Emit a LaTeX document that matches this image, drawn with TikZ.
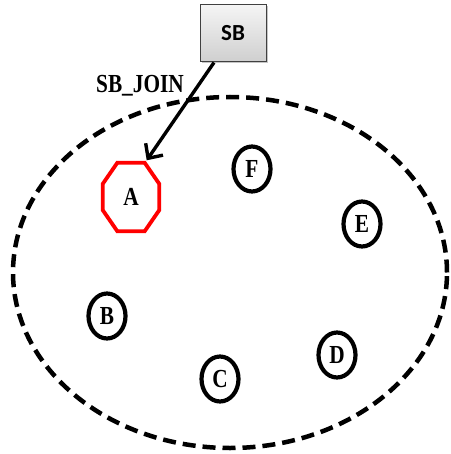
\documentclass[tikz,border=0pt]{standalone}
\usepackage{fontspec}
\setmainfont{Liberation Serif}
\newfontfamily\letterfont[FakeStretch=0.82]{Liberation Serif}
\newfontfamily\boxfont{Carlito}
\usetikzlibrary{arrows.meta,calc,shapes.geometric,shadows}

\begin{document}
\begin{tikzpicture}[x=1pt,y=-1pt,
  lettr/.style={font=\letterfont\bfseries\fontsize{26pt}{28pt}\selectfont},
  member/.style={lettr, ellipse, draw=black, line width=4.2pt,
    minimum width=37pt, minimum height=45pt, inner sep=0pt},
  octa/.style={draw=red, line width=3.8pt, line join=miter},
  cluster/.style={ellipse, draw=black, line width=4.5pt,
    dash pattern=on 13pt off 7pt, minimum width=434pt, minimum height=351pt},
  sbbox/.style={rectangle, draw=black!75, line width=1pt,
    top color=gray!8, bottom color=gray!38,
    drop shadow={shadow xshift=1.5pt, shadow yshift=-1.5pt, fill=black!45},
    minimum width=66pt, minimum height=57pt,
    font=\boxfont\bfseries\fontsize{23pt}{25pt}\selectfont},
  link/.style={line width=3.4pt,
    -{Straight Barb[length=11pt,width=21pt,line width=3.4pt]}}
]
\useasboundingbox (0,0) rectangle (450,454);

% dashed boundary of the group
\node[cluster] (group) at (230,272.5) {};

% members
\node[lettr, minimum width=56pt, minimum height=68pt, inner sep=0pt] (A) at (131,197) {A};
\draw[octa]
  ($(A.north west)+(14.5,0)$) -- ($(A.north east)+(-14.5,0)$) --
  ($(A.north east)+(0,21)$) -- ($(A.south east)+(0,-21)$) --
  ($(A.south east)+(-14.5,0)$) -- ($(A.south west)+(14.5,0)$) --
  ($(A.south west)+(0,-21)$) -- ($(A.north west)+(0,21)$) -- cycle;

\node[member] (F) at (252,169) {F};
\node[member] (E) at (362,224) {E};
\node[member] (B) at (107,316) {B};
\node[member] (C) at (220,379) {C};
\node[member] (D) at (337,355) {D};

% joining node
\node[sbbox] (SB) at (233,33.5) {SB};

\coordinate (tip) at ($(A.north east)+(-12.5,-2.5)$);
\draw[link] ($(SB.south)+(-19,0)$) -- (tip);
\node[lettr, inner sep=0pt] (joinlabel) at (140,86) {SB\_JOIN};
\end{tikzpicture}
\end{document}
